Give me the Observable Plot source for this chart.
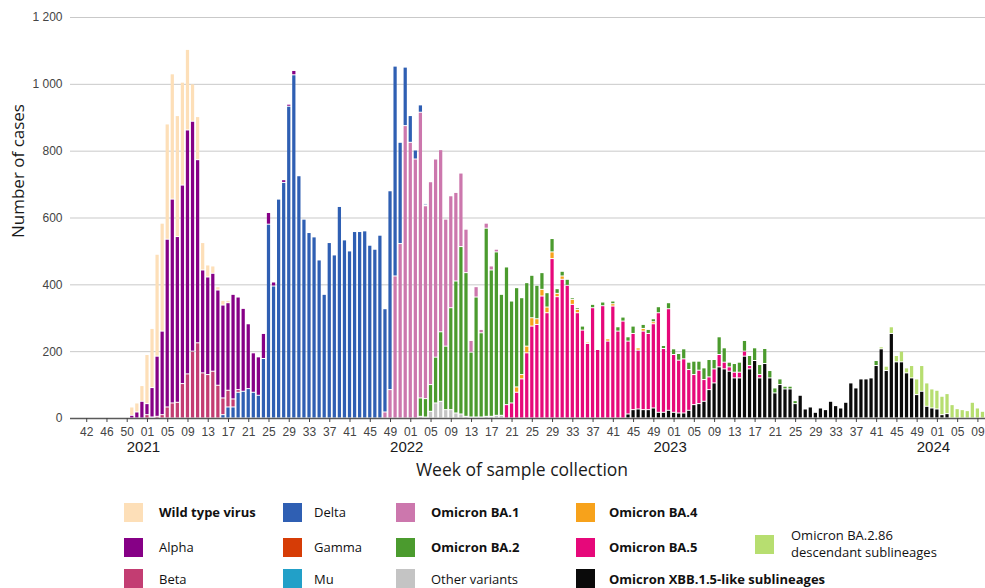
<!DOCTYPE html>
<html>
<head>
<meta charset="utf-8">
<script src="https://cdn.jsdelivr.net/npm/d3@7"></script>
<script src="https://cdn.jsdelivr.net/npm/@observablehq/plot@0.6"></script>
<style>
  body { margin: 0; background: #fff; }
  #wrap { position: relative; width: 985px; height: 588px; overflow: hidden; background: #fff; }
  #wrap svg { position: absolute; left: 0; top: 0; }
  .sw { position: absolute; width: 19px; height: 19px; }
  .lb { position: absolute; font-family: "Open Sans", sans-serif; font-size: 13px; color: #111;
        transform: translateY(-50%); white-space: pre-line; line-height: 17px; }
  .lb.bold { font-weight: 700; }
</style>
</head>
<body>
<div id="wrap"></div>
<script>
// ISO weeks on the axis: [year, first week, last week]
const seasons = [[2020, 42, 53], [2021, 1, 52], [2022, 1, 52], [2023, 1, 52], [2024, 1, 10]];

// Weekly case counts per variant, each starting at its first reported week
const wildTypeFrom = [2020, 51];
const wildType = [25, 27, 47, 147, 177, 305, 323, 345, 375, 362, 308, 241, 112, 129, 82, 36, 22, 10, 14, 7, 2];

const alphaFrom = [2020, 51];
const alpha = [8, 18, 50, 33, 88, 180, 250, 502, 610, 496, 594, 730, 688, 548, 308, 292, 293, 285, 278, 262,
  313, 277, 248, 194, 118, 115, 75, 35, 12, 3, 8, 6, 13];

const betaFrom = [2021, 1];
const beta = [10, 3, 5, 10, 33, 45, 47, 103, 132, 200, 225, 135, 130, 140, 98, 50, 50, 24, 8];

const deltaFrom = [2021, 16];
const delta = [10, 33, 33, 77, 80, 88, 77, 68, 178, 580, 395, 655, 705, 933, 1027, 725, 595, 555, 542, 473,
  370, 525, 488, 633, 533, 500, 558, 558, 560, 517, 505, 547, 309, 595, 628, 303, 175, 80, 27, 22, 4];

const gammaFrom = [2021, 17];
const gamma = [];

const muFrom = [2022, 4];
const mu = [3, 3];

const ba1From = [2021, 48];
const ba1 = [18, 85, 425, 522, 875, 825, 775, 855, 577, 607, 593, 545, 380, 335, 265, 220, 130, 35, 31, 10, 15, 12, 8];

const ba2From = [2022, 3];
const ba2 = [55, 55, 80, 137, 208, 190, 305, 395, 501, 430, 194, 359, 252, 563, 438, 489, 362, 412, 305, 297,
  230, 190, 127, 100, 50, 43, 40, 14, 14, 18, 5, 5, 12, 0, 10, 0, 11, 0, 8, 13,
  12, 13, 22, 0, 12, 12, 9, 18, 9, 18, 17, 20, 30, 22, 40, 27, 35, 52, 28, 53,
  43, 14, 26, 30, 32, 30, 38, 30, 45, 22, 15, 17, 8, 8, 9, 0, 0, 0, 0, 0,
  0, 0, 0, 0, 0, 0, 0, 0, 0, 0, 15];

const otherFrom = [2022, 3];
const other = [5, 3, 20, 45, 50, 25, 25, 15, 12, 5, 3, 3, 3, 5, 5, 8, 8];

const ba4From = [2022, 22];
const ba4 = [16, 13, 20, 25, 17, 20, 17, 20, 10, 10, 0, 15, 10, 0, 4, 0, 0, 0, 7, 7, 0, 0, 0, 0, 7, 8, 0, 6];

const ba5From = [2022, 20];
const ba5 = [40, 45, 77, 117, 195, 275, 280, 365, 315, 477, 363, 415, 397, 340, 315, 263, 223, 330, 205, 336,
  230, 335, 260, 290, 218, 228, 176, 235, 228, 252, 298, 191, 304, 173, 158, 162, 122, 90, 100, 65,
  38, 42, 37, 20, 13, 17, 17, 15, 10, 0, 10];

const xbbFrom = [2022, 44];
const xbb = [12, 25, 27, 25, 25, 30, 17, 17, 23, 17, 15, 15, 23, 40, 43, 50, 85, 105, 153, 147,
  140, 120, 120, 185, 147, 172, 120, 163, 120, 75, 100, 87, 87, 43, 68, 27, 33, 17, 30, 25,
  50, 37, 30, 47, 105, 90, 117, 117, 120, 157, 207, 142, 253, 168, 168, 135, 120, 70, 80, 35,
  30, 27, 10, 13];

const ba286From = [2023, 42];
const ba286 = [6, 13, 20, 19, 32, 15, 37, 47, 77, 70, 57, 56, 55, 60, 40, 28, 25, 22, 47, 30, 20];

// Variants in legend order, with their colours
const variantNames = ["Wild type virus", "Alpha", "Beta", "Delta", "Gamma", "Mu",
  "Omicron BA.1", "Omicron BA.2", "Other variants", "Omicron BA.4", "Omicron BA.5",
  "Omicron XBB.1.5-like sublineages", "Omicron BA.2.86 descendant sublineages"];
const variantColors = ["#fddfb8", "#860086", "#c33d72", "#2f5fb3", "#d63c06", "#22a0c8",
  "#cc77ad", "#4b9b2e", "#c4c4c4", "#f7a21b", "#e6087a", "#0a0a0a", "#b7de70"];
const legendLabels = ["Wild type virus", "Alpha", "Beta", "Delta", "Gamma", "Mu",
  "Omicron BA.1", "Omicron BA.2", "Other variants", "Omicron BA.4", "Omicron BA.5",
  "Omicron XBB.1.5-like sublineages", "Omicron BA.2.86\ndescendant sublineages"];

// Stacking order, bottom first
const stackOrder = ["Other variants", "Omicron XBB.1.5-like sublineages", "Omicron BA.2.86 descendant sublineages",
  "Omicron BA.5", "Omicron BA.4", "Omicron BA.2", "Omicron BA.1", "Mu", "Gamma", "Delta", "Beta", "Alpha", "Wild type virus"];

const yTicks = [0, 200, 400, 600, 800, 1000, 1200];

// ---- build the week list and the long table ----
const weeks = seasons.flatMap(([year, first, last]) => d3.range(first, last + 1).map(week => ({year, week})));
const weekIndex = ([year, week]) => weeks.findIndex(w => w.year === year && w.week === week);

const seriesList = [
  ["Wild type virus", wildTypeFrom, wildType],
  ["Alpha", alphaFrom, alpha],
  ["Beta", betaFrom, beta],
  ["Delta", deltaFrom, delta],
  ["Gamma", gammaFrom, gamma],
  ["Mu", muFrom, mu],
  ["Omicron BA.1", ba1From, ba1],
  ["Omicron BA.2", ba2From, ba2],
  ["Other variants", otherFrom, other],
  ["Omicron BA.4", ba4From, ba4],
  ["Omicron BA.5", ba5From, ba5],
  ["Omicron XBB.1.5-like sublineages", xbbFrom, xbb],
  ["Omicron BA.2.86 descendant sublineages", ba286From, ba286]
];

const rows = seriesList.flatMap(([variant, from, cases]) => {
  const start = weekIndex(from);
  return cases.map((c, k) => ({i: start + k, variant, cases: c}));
});

const tickIdx = d3.range(0, weeks.length, 4);
const yearIdx = weeks.map((w, i) => i).filter(i => weeks[i].week === 1);
const spaced = d => d3.format(",")(d).replace(",", " ");

const chart = Plot.plot({
  width: 985,
  height: 490,
  marginLeft: 70,
  marginRight: 0,
  marginTop: 17,
  marginBottom: 72,
  style: {fontFamily: "'Liberation Sans', Arial, sans-serif", fontSize: "12px", color: "#444", background: "transparent", overflow: "visible"},
  x: {type: "linear", domain: [-3.2, weeks.length - 0.5]},
  y: {domain: [0, 1200]},
  color: {domain: variantNames, range: variantColors},
  marks: [
    Plot.gridY(yTicks, {stroke: "#c9c9c9", strokeOpacity: 1}),
    Plot.rectY(rows, Plot.stackY({
      x1: d => d.i - 0.32,
      x2: d => d.i + 0.32,
      y: "cases",
      fill: "variant",
      order: stackOrder,
      insetTop: 0.5,
      insetBottom: 0.5
    })),
    Plot.ruleY([0], {stroke: "#5a5a5a", strokeWidth: 1.6}),
    Plot.axisX({ticks: tickIdx, tickFormat: i => String(weeks[i].week).padStart(2, "0"),
      tickSize: 4, tickPadding: 5, label: null, fontSize: 12}),
    Plot.axisY({ticks: yTicks, tickFormat: spaced, tickSize: 0, tickPadding: 8, label: null, fontSize: 12}),
    Plot.text(yearIdx, {x: d => d, text: d => String(weeks[d].year), frameAnchor: "bottom",
      dy: 33, dx: -4, fontSize: 15, fill: "#1a1a1a"}),
    Plot.text(["Week of sample collection"], {text: d => d, frameAnchor: "bottom", dy: 57, dx: -6,
      fontSize: 17.5, fill: "#1a1a1a", fontFamily: "Open Sans"}),
    Plot.text(["Number of cases"], {text: d => d, frameAnchor: "left", dx: -51.5, dy: 20, rotate: -90,
      fontSize: 17, fill: "#1a1a1a", fontFamily: "Open Sans"})
  ]
});

const wrap = document.getElementById("wrap");
wrap.appendChild(chart);

// ---- legend: five columns, three rows ----
const legendCols = [{sw: 124, lb: 159}, {sw: 283, lb: 314}, {sw: 396, lb: 431}, {sw: 576, lb: 609}, {sw: 755, lb: 791}];
const legendRows = [512, 547, 578.5];
const legendSlots = [[0, 0], [0, 1], [0, 2], [1, 0], [1, 1], [1, 2], [2, 0], [2, 1], [2, 2], [3, 0], [3, 1], [3, 2], [4, 1]];
const boldLabels = new Set(["Wild type virus", "Omicron BA.1", "Omicron BA.2", "Omicron BA.4", "Omicron BA.5",
  "Omicron XBB.1.5-like sublineages"]);

variantNames.forEach((name, k) => {
  const [c, r] = legendSlots[k];
  const cy = legendRows[r] - (c === 4 ? 3 : 0);
  const sw = document.createElement("div");
  sw.className = "sw";
  sw.style.left = legendCols[c].sw + "px";
  sw.style.top = (cy - 9.5) + "px";
  sw.style.background = variantColors[k];
  wrap.appendChild(sw);
  const lb = document.createElement("div");
  lb.className = "lb" + (boldLabels.has(name) ? " bold" : "");
  lb.style.left = legendCols[c].lb + "px";
  lb.style.top = cy + "px";
  lb.textContent = legendLabels[k];
  wrap.appendChild(lb);
});
</script>
</body>
</html>
